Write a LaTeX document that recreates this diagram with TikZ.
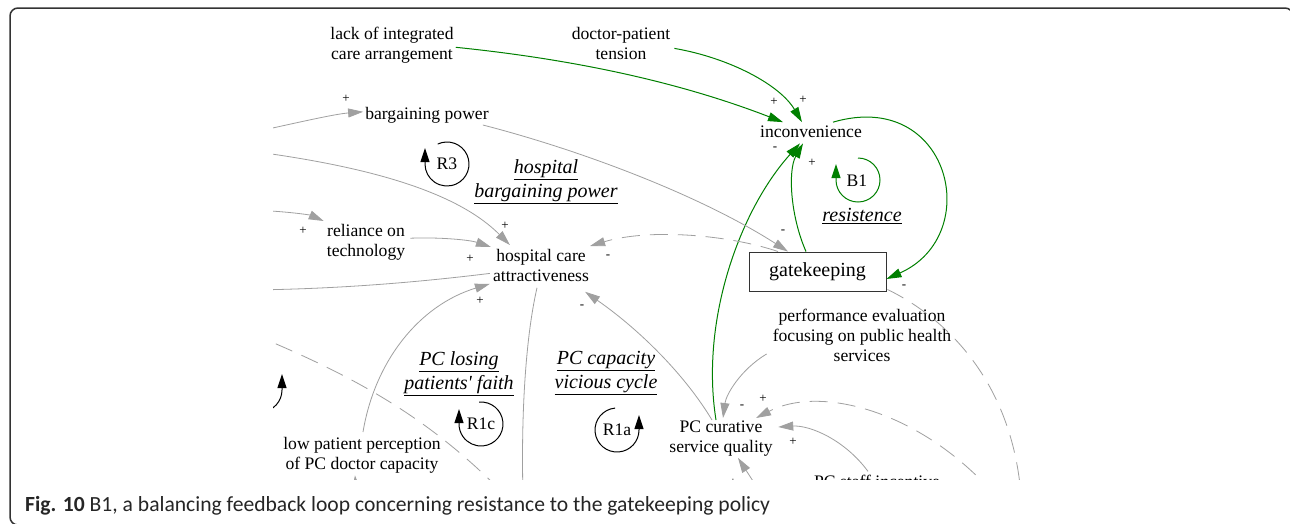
\documentclass[tikz,border=0pt]{standalone}
\usepackage{fontspec}
\setmainfont{Liberation Serif}[Ligatures=TeXOff]
\newfontfamily\capfont{Carlito}
\usetikzlibrary{arrows.meta}
\definecolor{lgray}{HTML}{A0A0A0}
\definecolor{lgreen}{HTML}{008000}
\definecolor{framec}{HTML}{333333}
\begin{document}
\begin{tikzpicture}[x=1pt,y=-1pt,
  txt/.style={font=\fontsize{17.6}{20}\selectfont, align=center, inner sep=0pt},
  ttl/.style={font=\fontsize{20}{24}\selectfont\itshape, align=center, inner sep=0pt},
  sgn/.style={font=\fontsize{13}{13}\selectfont, inner sep=0pt},
  gline/.style={draw=lgray, line width=0.8pt},
  glink/.style={gline, -{Triangle[length=15pt,width=9pt]}},
  gnlink/.style={draw=lgreen, line width=1pt, -{Triangle[length=15pt,width=9pt]}},
  dlink/.style={dash pattern=on 18pt off 10pt},
  looparc/.style={line width=1pt, -{Triangle[length=14pt,width=9pt]}},
]
\useasboundingbox (0,0) rectangle (1290,523);
\fill[white] (0,0) rectangle (1290,523);
% frame
\draw[framec, line width=1.5pt, rounded corners=8pt] (1293,530) -- (1293,8) -- (10,8) -- (10,525) -- (1293,525);
% caption
\node[anchor=base west, inner sep=0pt, font=\capfont\fontsize{21.6}{25}\selectfont, text=black!85] (cap) at (25,511)
  {\textbf{Fig. 10} B1, a balancing feedback loop concerning resistance to the gatekeeping policy};

\begin{scope}
\clip (273,10) rectangle (1288,479);
% free ends
\coordinate (c1) at (250,133);
\coordinate (c2) at (250,151);
\coordinate (c3) at (250,210);
\coordinate (c4) at (250,290);
\coordinate (c5) at (250,333);
\coordinate (c6) at (500,490);
\coordinate (c7) at (523,495);
\coordinate (c8) at (1021,495);
\coordinate (c9) at (995,495);
\coordinate (c10) at (762,495);
\coordinate (c11) at (357,500);

% variables
\node[txt, anchor=north] (lack) at (392,27) {lack of integrated\\care arrangement};
\node[txt, anchor=north] (dpt) at (621,27) {doctor-patient\\tension};
\node[txt, anchor=base] (bp) at (427,119) {bargaining power};
\node[txt, anchor=north] (rel) at (366,224) {reliance on\\technology};
\node[txt, anchor=north] (hca) at (541,249) {hospital care\\attractiveness};
\node[txt, anchor=base] (inc) at (811,137) {inconvenience};
\node[draw=black!80, line width=0.9pt, minimum width=137pt, minimum height=39pt, inner sep=0pt,
      font=\fontsize{20}{24}\selectfont] (gk) at (817.5,271.5) {gatekeeping};
\node[txt, anchor=north] (perf) at (862,309) {performance evaluation\\focusing on public health\\services};
\node[txt, anchor=north] (pcq) at (721,421) {PC curative\\service quality};
\node[txt, anchor=base] (staff) at (877,487) {PC staff incentive};
\node[txt, anchor=north] (low) at (362,437) {low patient perception\\of PC doctor capacity};

% loop titles
\node[ttl, anchor=north] (thbp) at (546,159) {\underline{hospital}\\\underline{bargaining power}};
\node[ttl, anchor=base] (tres) at (862,221.5) {\underline{resistence}};
\node[ttl, anchor=north] (tpcl) at (459,351) {\underline{PC losing}\\\underline{patients' faith}};
\node[ttl, anchor=north] (tpcv) at (606,351) {\underline{PC capacity}\\\underline{vicious cycle}};

% loop markers
\node[txt] (r3) at (447,164) {R3};
\node[txt] (b1) at (857,181) {B1};
\node[txt] (r1c) at (481,424) {R1c};
\node[txt] (r1a) at (617,430) {R1a};
\begin{scope}[shift={(447,164)}, y=1pt]
  \draw[looparc] (115:22) arc[start angle=115, end angle=-180, radius=22] -- ++(0,16);
\end{scope}
\begin{scope}[shift={(858,180)}, y=1pt]
  \draw[looparc, lgreen] (90:22) arc[start angle=90, end angle=-180, radius=22] -- ++(0,16);
\end{scope}
\begin{scope}[shift={(481,424)}, y=1pt]
  \draw[looparc] (95:22) arc[start angle=95, end angle=-180, radius=22] -- ++(0,15);
\end{scope}
\begin{scope}[shift={(617,430)}, y=1pt]
  \draw[looparc] (95:22) arc[start angle=95, end angle=360, radius=22] -- ++(0,15);
\end{scope}
\begin{scope}[shift={(260,390)}, y=1pt]
  \draw[looparc] (95:22) arc[start angle=95, end angle=360, radius=22] -- ++(0,16);
\end{scope}

% green links
\draw[gnlink] ([shift={(2,2)}]lack.east) .. controls (600,62) and (700,90) .. ([shift={(-28,-3)}]inc.north);
\draw[gnlink] ([shift={(4,5)}]dpt.east) .. controls (730,58) and (780,85) .. ([shift={(-9,-3)}]inc.north);
\draw[gnlink] ([shift={(22,-3)}]inc.north) .. controls (950,88) and (985,235) .. ([shift={(0,7.5)}]gk.east);
\draw[gnlink] ([xshift=-11.5pt]gk.north) .. controls (790,215) and (788,170) .. ([shift={(-8,6)}]inc.south);
\draw[gnlink] ([shift={(-5,-1)}]pcq.north) .. controls (700,320) and (740,210) .. ([shift={(-11,6)}]inc.south);

% gray links
\draw[glink] (c1) .. controls (300,122) and (335,114) .. ([shift={(-2,-3)}]bp.west);
\draw[glink] ([shift={(-6,2)}]bp.south east) .. controls (580,150) and (700,195) .. ([shift={(-29.5,0)}]gk.north);
\draw[glink] (c2) .. controls (380,168) and (460,195) .. ([shift={(17,-4)}]hca.north west);
\draw[glink] (c3) .. controls (285,211) and (310,215) .. ([shift={(-3,-3)}]rel.north west);
\draw[glink] ([shift={(5,-4)}]rel.east) .. controls (440,237) and (470,240) .. ([shift={(-2,-2)}]hca.north west);
\draw[gline] ([shift={(-3,8)}]hca.west) .. controls (420,282) and (340,289) .. (c4);
\draw[glink] ([shift={(1,-5)}]low.north) .. controls (375,360) and (420,305) .. ([shift={(-3,2)}]hca.south west);
\draw[gline] ([shift={(-4,6)}]hca.south) .. controls (525,340) and (521,420) .. (c7);
\draw[glink] ([shift={(-9,-1)}]pcq.north) .. controls (685,375) and (640,330) .. ([shift={(-4,10)}]hca.south east);
\draw[glink,dlink] ([shift={(-39.5,0)}]gk.north) .. controls (730,235) and (650,228) .. ([shift={(1,-3)}]hca.north east);
\draw[gline,dlink] (c5) .. controls (360,378) and (430,420) .. (c6);
\draw[gline,dlink] ([shift={(1,-2)}]gk.south east) .. controls (950,320) and (1012,385) .. (c8);
\draw[glink,dlink] (c9) .. controls (920,410) and (820,385) .. ([shift={(35,-3)}]pcq.north);
\draw[glink] ([shift={(-6,-8)}]perf.south west) .. controls (740,370) and (726,395) .. ([shift={(2,-3)}]pcq.north);
\draw[glink] ([shift={(-9,-3)}]staff.north) .. controls (845,440) and (810,425) .. ([shift={(5.5,6)}]pcq.north east);
\draw[glink] (c10) -- ([shift={(17,1)}]pcq.south);
\draw[glink] (c11) -- ([shift={(-7,2)}]low.south);

% polarity signs
\node[sgn] (p1) at (346,99) {+};
\node[sgn] (p2) at (303,231) {+};
\node[sgn] (p3) at (505,226) {+};
\node[sgn] (p4) at (470,259) {+};
\node[sgn] (p5) at (480,301) {+};
\node[sgn] (m1) at (608,257) {-};
\node[sgn] (m2) at (582,307) {-};
\node[sgn] (p6) at (774,102) {+};
\node[sgn] (p7) at (803,100) {+};
\node[sgn] (m3) at (775,149) {-};
\node[sgn] (p8) at (812,163) {+};
\node[sgn] (m4) at (783,232) {-};
\node[sgn] (m5) at (904,287) {-};
\node[sgn] (p9) at (763,399) {+};
\node[sgn] (m6) at (742,407) {-};
\node[sgn] (p10) at (793,442) {+};
\node[sgn] (p11) at (733,483) {+};
\end{scope}
\end{tikzpicture}
\end{document}
